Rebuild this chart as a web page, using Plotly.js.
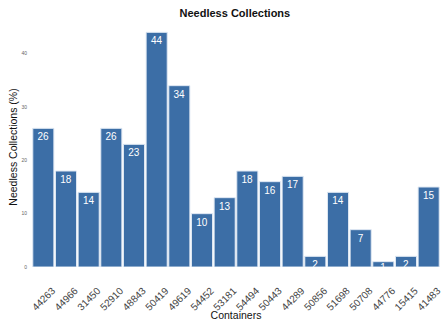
<!DOCTYPE html>
<html>
<head>
<meta charset="utf-8">
<script src="https://cdn.plot.ly/plotly-3.0.1.min.js"></script>
<style>
  html, body { margin: 0; padding: 0; background: #fff; }
  #chart { width: 444px; height: 321px; }
</style>
</head>
<body>
<div id="chart"></div>
<script>
// Container IDs along the x axis
const containers = ["44263", "44966", "31450", "52910", "48843", "50419", "49619", "54452", "53181",
                    "54494", "50443", "44289", "50856", "51698", "50708", "44776", "15415", "41483"];
// Share of needless collections per container (%)
const needlessPct = [26, 18, 14, 26, 23, 44, 34, 10, 13, 18, 16, 17, 2, 14, 7, 1, 2, 15];
const yTicks = [0, 10, 20, 30, 40];

const trace = {
  type: "bar",
  x: containers,
  y: needlessPct,
  text: needlessPct.map(v => String(v)),
  textposition: "inside",
  insidetextanchor: "end",
  textangle: 0,
  textfont: { family: "Liberation Sans, Arial, sans-serif", size: 10, color: "#ffffff" },
  marker: { color: "#3c6ea6", line: { color: "#dfe8f3", width: 1 } },
  cliponaxis: true,
  hoverinfo: "x+y"
};

const layout = {
  width: 444,
  height: 321,
  margin: { l: 32, r: 4, t: 27, b: 54 },
  paper_bgcolor: "#ffffff",
  plot_bgcolor: "#ffffff",
  font: { family: "Liberation Sans, Arial, sans-serif", color: "#222" },
  title: {
    text: "<b>Needless Collections</b>",
    font: { size: 11, color: "#111" },
    x: 0.529, xanchor: "center", y: 0.958, yanchor: "middle"
  },
  bargap: 0.07,
  uniformtext: { minsize: 10, mode: "show" },
  xaxis: {
    type: "category",
    tickangle: -45,
    tickfont: { size: 10, color: "#444" },
    ticklabelstandoff: 15,
    ticklabelshift: 9,
    showgrid: false, zeroline: false, showline: false,
    ticks: "", ticklen: 0,
    title: { text: "Containers", font: { size: 10.5, color: "#111" }, standoff: 0 }
  },
  yaxis: {
    range: [0, 45],
    tickvals: yTicks,
    ticktext: yTicks.map(String),
    tickfont: { size: 5, color: "#666" },
    ticklabelstandoff: 4,
    showgrid: false, zeroline: false, showline: false,
    ticks: "", ticklen: 0,
    title: { text: "Needless Collections (%)", font: { size: 10.5, color: "#111" }, standoff: 1 }
  },
  showlegend: false
};

Plotly.newPlot("chart", [trace], layout, { displayModeBar: false, staticPlot: true });
</script>
</body>
</html>
